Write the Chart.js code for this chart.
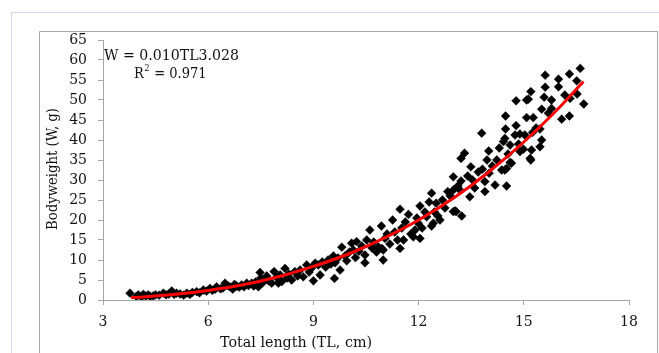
<!DOCTYPE html>
<html>
<head>
<meta charset="utf-8">
<script src="https://cdn.jsdelivr.net/npm/chart.js@4/dist/chart.umd.min.js"></script>
<style>
html,body{margin:0;padding:0;background:#fff;}
#c{display:block;}
</style>
</head>
<body>
<canvas id="c" width="659" height="353"></canvas>
<script>
// Observed data: total length (cm) and body weight (g)
const tl = [3.77,3.95,4.01,4.10,4.15,4.22,4.29,4.35,4.43,4.50,4.60,4.72,4.80,4.88,4.96,5.03,5.10,5.20,5.30,5.39,5.48,5.55,5.67,5.75,5.86,5.95,6.05,6.12,6.20,6.24,6.35,6.42,6.48,6.55,6.62,6.70,6.75,6.81,6.88,6.95,7.02,7.10,7.15,7.24,7.30,7.35,7.43,7.48,7.50,7.55,7.60,7.67,7.72,7.81,7.88,7.95,8.00,8.05,8.10,8.19,8.25,8.30,8.38,8.47,8.55,8.62,8.71,8.81,8.88,8.95,9.00,9.05,9.14,9.19,9.25,9.35,9.42,9.50,9.57,9.60,9.62,9.70,9.76,9.81,9.90,9.95,10.03,10.09,10.14,10.20,10.23,10.30,10.38,10.47,10.47,10.52,10.61,10.67,10.72,10.80,10.85,10.94,10.95,10.99,10.99,11.04,11.10,11.18,11.26,11.32,11.40,11.47,11.47,11.52,11.57,11.62,11.71,11.78,11.85,11.90,11.95,11.99,12.04,12.04,12.10,12.18,12.23,12.30,12.37,12.37,12.42,12.45,12.50,12.55,12.61,12.68,12.75,12.83,12.90,12.99,12.99,12.99,13.04,13.07,13.12,13.18,13.21,13.21,13.23,13.31,13.40,13.46,13.49,13.54,13.60,13.70,13.80,13.82,13.89,13.89,13.95,14.00,14.01,14.10,14.18,14.23,14.30,14.37,14.42,14.46,14.46,14.48,14.48,14.51,14.51,14.55,14.61,14.61,14.65,14.75,14.78,14.78,14.85,14.89,14.89,14.99,15.03,15.08,15.08,15.13,15.18,15.20,15.20,15.22,15.25,15.27,15.35,15.46,15.46,15.51,15.51,15.58,15.61,15.61,15.70,15.79,15.79,15.99,15.99,16.08,16.17,16.30,16.30,16.32,16.51,16.52,16.61,16.71];
const bw = [1.7,0.9,1.25,0.8,1.4,1.0,1.25,0.9,1.0,1.3,1.2,1.7,1.3,1.5,2.25,1.4,1.7,1.5,1.2,1.7,1.4,1.9,2.1,1.8,2.5,2.2,2.9,2.4,2.7,3.3,2.8,3.0,4.2,3.6,3.3,2.7,3.9,3.5,3.2,3.75,3.3,4.2,3.6,4.2,3.5,4.5,3.3,6.9,5.5,4.3,5.0,6.0,4.8,4.2,7.1,5.6,4.2,6.3,4.6,7.9,5.5,6.5,5.0,7.1,6.0,7.5,5.8,8.75,7.0,8.0,4.8,9.2,8.75,6.25,9.5,8.2,10.0,9.0,11.0,5.4,9.3,10.5,7.5,13.2,11.0,9.8,12.0,14.2,12.5,10.6,14.6,12.2,13.5,11.25,9.3,15.0,17.5,13.0,14.5,12.0,13.3,18.5,12.9,12.5,10.0,15.4,16.5,14.0,20.0,17.0,15.0,22.7,12.9,18.0,15.0,19.5,21.4,16.5,15.8,17.5,20.5,19.2,23.5,15.4,18.0,22.0,20.8,24.5,26.7,18.5,19.2,22.0,24.2,21.0,20.0,25.0,23.0,27.1,26.0,30.8,27.5,22.1,22.3,22.1,28.5,27.5,29.75,35.4,21.0,36.7,31.0,25.8,33.3,30.0,28.0,32.0,41.7,32.7,29.6,27.1,35.0,37.25,31.7,33.5,28.75,35.0,38.0,32.5,39.6,40.4,32.5,46.0,42.75,28.5,32.9,36.5,38.75,34.4,34.2,41.25,49.8,43.6,39.0,41.5,37.1,37.7,41.25,50.0,45.6,50.2,35.4,52.1,35.0,37.5,41.9,45.6,43.0,42.75,38.3,40.0,47.7,50.7,56.2,53.2,46.7,50.0,47.9,55.2,53.3,45.2,51.25,56.5,46.0,50.4,54.8,51.5,57.9,49.0];
// Fitted curve W = 0.010TL^3.028
const curveTL = [3.8,4,5,6,7,8,9,10,11,12,13,14,15,16,16.7];
const curveW  = [0.6,0.7,1.35,2.4,3.8,5.8,8.4,11.5,15.4,20.0,25.5,32.0,39.5,48.0,54.6];
// Axis ticks
const xTicks = [3,6,9,12,15,18];
const yMax = 65, yStep = 5;

const points = tl.map((x,i)=>({x:x,y:bw[i]}));
const curve = curveTL.map((x,i)=>({x:x,y:curveW[i]}));

function fitText(ctx, text, cx, cy, width, rot){
  const w = ctx.measureText(text).width;
  ctx.save();
  ctx.translate(cx, cy);
  if (rot) ctx.rotate(rot);
  ctx.scale(width / w, 1);
  ctx.textAlign = 'center';
  ctx.textBaseline = 'middle';
  ctx.fillText(text, 0, 0);
  ctx.restore();
}

const deco = {
  id: 'deco',
  beforeDraw(chart){
    const ctx = chart.ctx;
    ctx.save();
    ctx.fillStyle = '#fff';
    ctx.fillRect(0,0,chart.width,chart.height);
    ctx.strokeStyle = '#d4d4ee';
    ctx.lineWidth = 1;
    ctx.beginPath();
    ctx.moveTo(10, 12.5); ctx.lineTo(659, 12.5);
    ctx.moveTo(11.5, 12.5); ctx.lineTo(11.5, 353);
    ctx.stroke();
    ctx.strokeStyle = '#a6a6a6';
    ctx.beginPath();
    ctx.moveTo(39.5, 353); ctx.lineTo(39.5, 31.5); ctx.lineTo(657.5, 31.5); ctx.lineTo(657.5, 353);
    ctx.stroke();
    ctx.restore();
  },
  afterDraw(chart){
    const ctx = chart.ctx;
    ctx.save();
    ctx.fillStyle = '#111';
    ctx.font = '14px "DejaVu Serif"';
    fitText(ctx, 'Total length (TL, cm)', 296, 343, 152, 0);
    fitText(ctx, 'Bodyweight (W, g)', 53, 169, 122, -Math.PI/2);
    fitText(ctx, 'W = 0.010TL3.028', 171.5, 56, 135, 0);
    // R² line
    ctx.font = '14px "DejaVu Serif"';
    ctx.textBaseline = 'middle';
    ctx.textAlign = 'left';
    const rTxt = 'R', sup = '2', rest = ' = 0.971';
    let x = 134;
    const sx = 0.93;
    ctx.save(); ctx.translate(x, 74); ctx.scale(sx,1);
    ctx.fillText(rTxt, 0, 0);
    let w1 = ctx.measureText(rTxt).width;
    ctx.font = '9px "DejaVu Serif"';
    ctx.fillText(sup, w1 + 0.5, -5);
    let w2 = ctx.measureText(sup).width;
    ctx.font = '14px "DejaVu Serif"';
    ctx.fillText(rest, w1 + w2 + 1, 0);
    ctx.restore();
    ctx.restore();
  }
};

new Chart(document.getElementById('c'), {
  type: 'scatter',
  data: {
    datasets: [
      {
        label: 'fit',
        data: curve,
        showLine: true,
        borderColor: '#ff0000',
        borderWidth: 3,
        pointRadius: 0,
        cubicInterpolationMode: 'monotone',
        fill: false
      },
      {
        label: 'obs',
        data: points,
        pointStyle: 'rectRot',
        pointRadius: 4.4,
        backgroundColor: '#000',
        borderColor: '#000',
        borderWidth: 0.5,
        showLine: false
      }
    ]
  },
  options: {
    responsive: false,
    animation: false,
    events: [],
    layout: { padding: { left: 0, top: 40, right: 30, bottom: 0 } },
    plugins: { legend: { display: false }, tooltip: { enabled: false } },
    scales: {
      x: {
        type: 'linear',
        min: 3, max: 18,
        afterFit(s){ s.height = 53; },
        afterBuildTicks(s){ s.ticks = xTicks.map(v=>({value:v})); },
        grid: { drawOnChartArea: false, drawTicks: true, tickLength: 5, color: '#a6a6a6' },
        border: { display: true, color: '#a6a6a6' },
        ticks: { padding: 9, color: '#111', font: { family: 'DejaVu Serif', size: 14 } }
      },
      y: {
        type: 'linear',
        min: 0, max: yMax,
        afterFit(s){ s.width = 103; },
        grid: { drawOnChartArea: false, drawTicks: true, tickLength: 5, color: '#a6a6a6' },
        border: { display: true, color: '#a6a6a6' },
        ticks: { stepSize: yStep, padding: 11, color: '#111', font: { family: 'DejaVu Serif', size: 14 } }
      }
    }
  },
  plugins: [deco]
});
</script>
</body>
</html>
